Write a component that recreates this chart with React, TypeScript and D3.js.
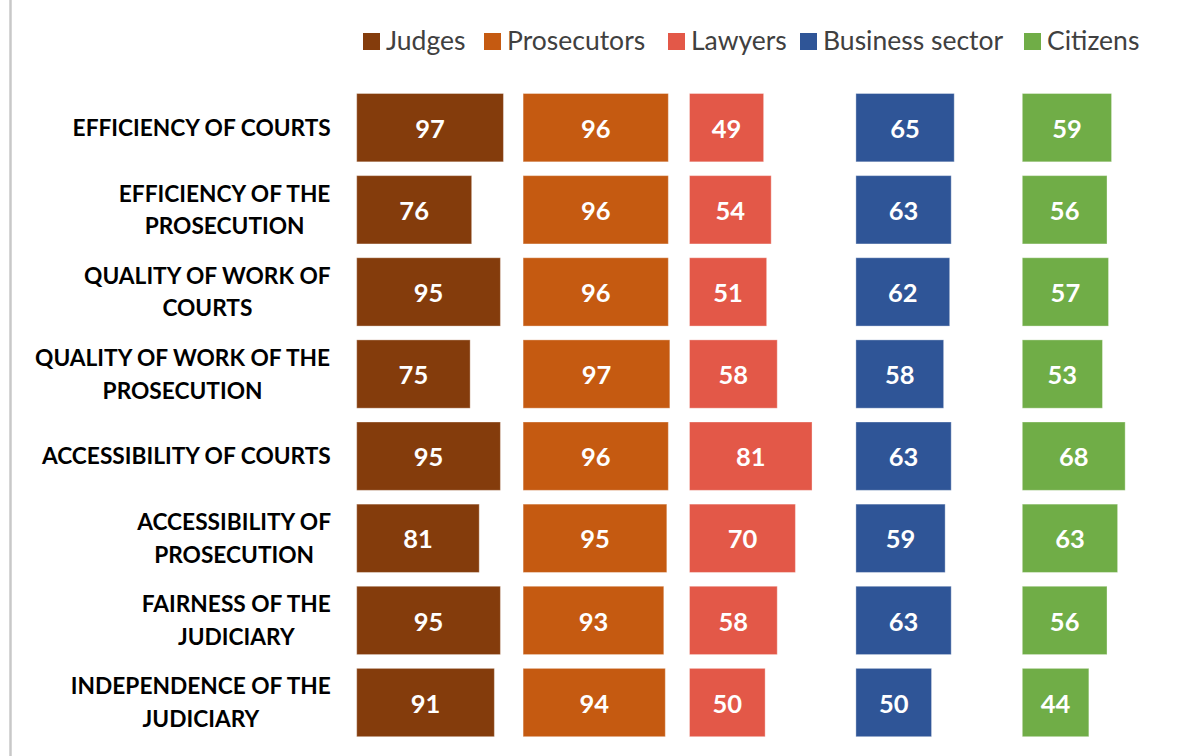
import React from "react";
import * as d3 from "d3";

const categories = [
  ["EFFICIENCY OF COURTS"],
  ["EFFICIENCY OF THE", "PROSECUTION"],
  ["QUALITY OF WORK OF", "COURTS"],
  ["QUALITY OF WORK OF THE", "PROSECUTION"],
  ["ACCESSIBILITY OF COURTS"],
  ["ACCESSIBILITY OF", "PROSECUTION"],
  ["FAIRNESS OF THE", "JUDICIARY"],
  ["INDEPENDENCE OF THE", "JUDICIARY"],
];
const seriesNames = ["Judges", "Prosecutors", "Lawyers", "Business sector", "Citizens"];
const judges = [97, 76, 95, 75, 95, 81, 95, 91];
const prosecutors = [96, 96, 96, 97, 96, 95, 93, 94];
const lawyers = [49, 54, 51, 58, 81, 70, 58, 50];
const business = [65, 63, 62, 58, 63, 59, 63, 50];
const citizens = [59, 56, 57, 53, 68, 63, 56, 44];
const seriesValues = [judges, prosecutors, lawyers, business, citizens];
const colors = ["#843C0C", "#C55A11", "#E35848", "#2F5597", "#70AD47"];

const W = 1198;
const H = 756;
const FONT = "Lato, 'Open Sans', sans-serif";
const LABEL_SIZE = 22.7;
const VALUE_SIZE = 25.5;
const LEGEND_SIZE = 26.5;
const legendX = [363, 484, 668, 800, 1024];

let ctx: CanvasRenderingContext2D | null = null;
function measure(text: string, font: string) {
  if (!ctx) ctx = document.createElement("canvas").getContext("2d");
  if (!ctx) return text.length * 12;
  ctx.font = font;
  return ctx.measureText(text).width;
}

export default function App() {
  const keys = categories.map((_, i) => String(i));
  const y = d3.scaleBand<string>().domain(keys).range([86.6, 743.6]).paddingInner(0.168).paddingOuter(0.084);
  const panel = d3.scaleBand<string>().domain(seriesNames).range([356.7, 356.7 + 5 * 166.4]).padding(0);
  const x = d3.scaleLinear().domain([0, 110]).range([0, panel.bandwidth()]);
  const labelRight = 331.5;
  const lineGap = 32.8;

  return (
    <svg width={W} height={H} style={{ position: "absolute", left: 0, top: 0, background: "#fff" }} fontFamily={FONT}>
      <rect x={0} y={0} width={W} height={H} fill="#fff" />
      <line x1={10.5} x2={10.5} y1={0} y2={H} stroke="#c8c8c8" strokeWidth={2.5} />
      {/* legend */}
      {seriesNames.map((s, i) => (
        <g key={s} transform={`translate(${legendX[i]},0)`}>
          <rect x={0} y={33} width={17} height={17} fill={colors[i]} />
          <text x={23} y={50} fontSize={LEGEND_SIZE} fill="#404040">{s}</text>
        </g>
      ))}
      {/* category labels */}
      {categories.map((lines, i) => {
        const cy = (y(String(i)) as number) + y.bandwidth() / 2;
        const maxW = d3.max(lines, (l) => measure(l, `bold ${LABEL_SIZE}px ${FONT}`)) as number;
        const cx = labelRight - maxW / 2;
        const startY = cy - ((lines.length - 1) * lineGap) / 2;
        return (
          <g key={i}>
            {lines.map((l, j) => (
              <text key={j} x={cx} y={startY + j * lineGap} dy="0.36em" textAnchor="middle" fontWeight="bold" fontSize={LABEL_SIZE} fill="#000">{l}</text>
            ))}
          </g>
        );
      })}
      {/* bars */}
      {seriesNames.map((s, si) => {
        const px = panel(s) as number;
        return (
          <g key={s} transform={`translate(${px},0)`}>
            {seriesValues[si].map((v, i) => {
              const by = y(String(i)) as number;
              const w = x(v);
              return (
                <g key={i}>
                  <rect x={0} y={by} width={w} height={y.bandwidth()} fill={colors[si]} stroke="#ffffff" strokeOpacity={0.35} strokeWidth={1} />
                  <text x={w / 2} y={by + y.bandwidth() / 2 + 1} dy="0.36em" textAnchor="middle" fontWeight="bold" fontSize={VALUE_SIZE} fill="#fff">{v}</text>
                </g>
              );
            })}
          </g>
        );
      })}
    </svg>
  );
}
